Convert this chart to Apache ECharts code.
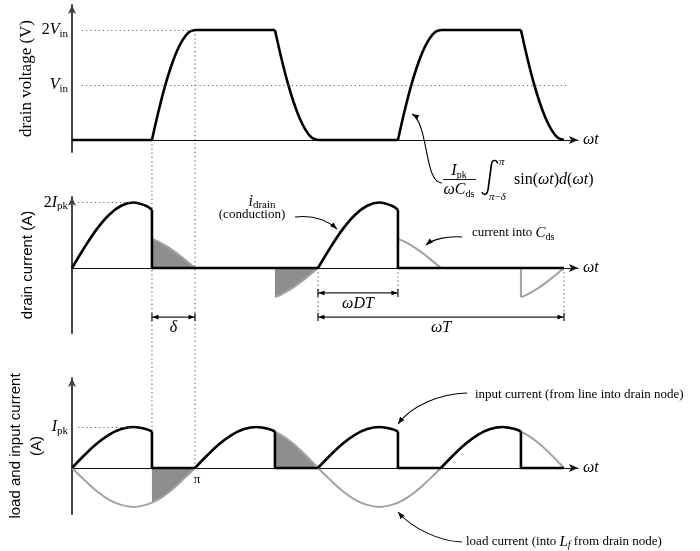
<!DOCTYPE html>
<html>
<head>
<meta charset="utf-8">
<script src="https://cdn.jsdelivr.net/npm/echarts@6/dist/echarts.min.js"></script>
<style>
html, body { margin: 0; padding: 0; background: #fff; }
#main { width: 700px; height: 551px; }
</style>
</head>
<body>
<div id="main"></div>
<script>
// x is wt in units of pi, voltage in Vin, currents in Ipk

// drain voltage
var vRise1 = [[0.65,0],[0.7,0.49],[0.75,0.93],[0.8,1.30],[0.85,1.60],[0.9,1.82],[0.95,1.96],[1,2]];
var vFall1 = [[1.65,2],[1.7,1.51],[1.75,1.07],[1.8,0.70],[1.85,0.40],[1.9,0.18],[1.95,0.04],[2,0]];
var vRise2 = [[2.65,0],[2.7,0.49],[2.75,0.93],[2.8,1.30],[2.85,1.60],[2.9,1.82],[2.95,1.96],[3,2]];
var vFall2 = [[3.65,2],[3.7,1.51],[3.75,1.07],[3.8,0.70],[3.85,0.40],[3.9,0.18],[3.95,0.04],[4,0]];
var vFlats = [[[0,0],[0.65,0]], [[1,2],[1.65,2]], [[2,0],[2.65,0]], [[3,2],[3.65,2]]];

// drain current
var dArc1 = [[0,0],[0.1,0.62],[0.2,1.18],[0.3,1.62],[0.4,1.90],[0.5,2],[0.6,1.90],[0.65,1.78]];
var dArc2 = [[2,0],[2.1,0.62],[2.2,1.18],[2.3,1.62],[2.4,1.90],[2.5,2],[2.6,1.90],[2.65,1.78]];
var dOff1 = [[0.65,1.78],[0.65,0],[2,0]];
var dOff2 = [[2.65,1.78],[2.65,0],[4,0]];
// current into Cds
var cds1 = [[0.65,0.89],[0.7,0.81],[0.8,0.59],[0.9,0.31],[1,0]];
var cds2 = [[1.65,-0.89],[1.7,-0.81],[1.8,-0.59],[1.9,-0.31],[2,0]];
var cds3 = [[2.65,0.89],[2.7,0.81],[2.8,0.59],[2.9,0.31],[3,0]];
var cds4 = [[3.65,-0.89],[3.7,-0.81],[3.8,-0.59],[3.9,-0.31],[4,0]];
var cds4Edge = [[3.65,0],[3.65,-0.89]];

// input current
var inArc1 = [[0,0],[0.1,0.31],[0.2,0.59],[0.3,0.81],[0.4,0.95],[0.5,1],[0.6,0.95],[0.65,0.89]];
var inArc2 = [[1,0],[1.1,0.31],[1.2,0.59],[1.3,0.81],[1.4,0.95],[1.5,1],[1.6,0.95],[1.65,0.89]];
var inArc3 = [[2,0],[2.1,0.31],[2.2,0.59],[2.3,0.81],[2.4,0.95],[2.5,1],[2.6,0.95],[2.65,0.89]];
var inArc4 = [[3,0],[3.1,0.31],[3.2,0.59],[3.3,0.81],[3.4,0.95],[3.5,1],[3.6,0.95],[3.65,0.89]];
var inOff = [[[0.65,0.89],[0.65,0],[1,0]], [[1.65,0.89],[1.65,0],[2,0]],
             [[2.65,0.89],[2.65,0],[3,0]], [[3.65,0.89],[3.65,0],[4,0]]];
// load current
var loadX = [0,0.1,0.2,0.3,0.4,0.5,0.6,0.7,0.8,0.9,1,1.1,1.2,1.3,1.4,1.5,1.6,1.7,1.8,1.9,2,
             2.1,2.2,2.3,2.4,2.5,2.6,2.7,2.8,2.9,3,3.1,3.2,3.3,3.4,3.5,3.6,3.7,3.8,3.9,4];
var loadY = [0,-0.29,-0.56,-0.77,-0.90,-0.95,-0.90,-0.77,-0.56,-0.29,0,
             0.31,0.59,0.81,0.95,1,0.95,0.81,0.59,0.31,0,
             -0.29,-0.56,-0.77,-0.90,-0.95,-0.90,-0.77,-0.56,-0.29,0,
             0.31,0.59,0.81,0.95,1,0.95,0.81,0.59,0.31,0];
var loadShade1 = [[0.65,-0.85],[0.7,-0.77],[0.8,-0.56],[0.9,-0.29],[1,0]];
var loadShade2 = [[1.65,0.89],[1.7,0.81],[1.8,0.59],[1.9,0.31],[2,0]];

var XMAX = 4.114;
var serif = 'Liberation Serif';
var sans = 'Liberation Sans';
var BLACK = '#000';
var GREY = '#a3a3a3';
var SHADE = '#8e8e8e';

var mathRich = {
    i: { fontFamily: serif, fontStyle: 'italic', fontSize: 16, color: '#000' },
    n: { fontFamily: serif, fontSize: 16, color: '#000' },
    s: { fontFamily: serif, fontSize: 11, color: '#000', padding: [8, 0, 0, 0] }
};

var chart = echarts.init(document.getElementById('main'));

function line(g, data, color, width, smooth, area) {
    var s = {
        type: 'line', xAxisIndex: g, yAxisIndex: g, data: data,
        smooth: smooth ? 0.35 : false, symbol: 'none', silent: true, animation: false,
        lineStyle: { color: color, width: width, join: 'round' }
    };
    if (area) {
        s.areaStyle = { color: SHADE, opacity: 1 };
        s.z = 1;
    } else {
        s.z = color == BLACK ? 4 : 3;
    }
    return s;
}

function dotted(g, pairs) {
    return {
        type: 'line', xAxisIndex: g, yAxisIndex: g, data: [], silent: true,
        markLine: {
            silent: true, symbol: 'none', label: { show: false }, animation: false,
            lineStyle: { color: '#666', width: 1.2, type: [1.2, 3] },
            data: pairs.map(function (p) { return [{ coord: p[0] }, { coord: p[1] }]; })
        }
    };
}

function xAxisCfg(g) {
    return {
        type: 'value', gridIndex: g, min: 0, max: XMAX,
        axisLine: { onZero: true, symbol: ['none', 'arrow'], symbolSize: [6, 9],
                    lineStyle: { color: '#111', width: 1 } },
        axisTick: { show: false }, splitLine: { show: false },
        axisLabel: { show: false },
        name: '{i|ωt}', nameLocation: 'end', nameGap: 5,
        nameTextStyle: { rich: mathRich }
    };
}

function yAxisCfg(g, min, max, values, fmt, name, nameFont, nameGap) {
    return {
        type: 'value', gridIndex: g, min: min, max: max,
        axisLine: { symbol: ['none', 'arrow'], symbolSize: [6, 9],
                    lineStyle: { color: '#444', width: 2 } },
        axisTick: { show: false }, splitLine: { show: false },
        axisLabel: { customValues: values, formatter: fmt, rich: mathRich, margin: 4 },
        name: name, nameLocation: 'middle', nameRotate: 90, nameGap: nameGap,
        nameMoveOverlap: false,
        nameTextStyle: nameFont
    };
}

var series = [];
// panel 1
series.push(dotted(0, [[[0.08, 2], [1, 2]], [[0.08, 1], [4.02, 1]]]));
[vRise1, vFall1, vRise2, vFall2].forEach(function (d) { series.push(line(0, d, BLACK, 2.6, true)); });
vFlats.forEach(function (d) { series.push(line(0, d, BLACK, 2.6, false)); });
// panel 2
series.push(dotted(1, [[[0.05, 2], [0.5, 2]]]));
series.push(line(1, cds1, GREY, 2, true, true));
series.push(line(1, cds2, GREY, 2, true, true));
series.push(line(1, cds3, GREY, 2, true));
series.push(line(1, cds4, GREY, 2, true));
series.push(line(1, cds4Edge, GREY, 2, false));
series.push(line(1, dArc1, BLACK, 2.6, true));
series.push(line(1, dArc2, BLACK, 2.6, true));
series.push(line(1, dOff1, BLACK, 2.6, false));
series.push(line(1, dOff2, BLACK, 2.6, false));
// panel 3
series.push(dotted(2, [[[0.05, 1], [0.5, 1]]]));
series.push(line(2, loadShade1, GREY, 0, true, true));
series.push(line(2, loadShade2, GREY, 0, true, true));
series.push(line(2, loadX.map(function (x, i) { return [x, loadY[i]]; }), GREY, 2, true));
[inArc1, inArc2, inArc3, inArc4].forEach(function (d) { series.push(line(2, d, BLACK, 2.6, true)); });
inOff.forEach(function (d) { series.push(line(2, d, BLACK, 2.6, false)); });

chart.setOption({
    animation: false,
    backgroundColor: '#fff',
    grid: [
        { left: 72, top: 5, width: 506, height: 147, outerBoundsMode: 'none', containLabel: false },
        { left: 72, top: 197, width: 506, height: 136, outerBoundsMode: 'none', containLabel: false },
        { left: 72, top: 378, width: 506, height: 136, outerBoundsMode: 'none', containLabel: false }
    ],
    xAxis: [xAxisCfg(0), xAxisCfg(1), xAxisCfg(2)],
    yAxis: [
        yAxisCfg(0, -0.218, 2.455, [1, 2],
            function (v) { return v === 2 ? '{n|2}{i|V}{s|in}' : '{i|V}{s|in}'; },
            'drain voltage (V)', { fontFamily: serif, fontSize: 17, color: '#000' }, 37),
        yAxisCfg(1, -1.985, 2.168, [2],
            function () { return '{n|2}{i|I}{s|pk}'; },
            'drain current (A)', { fontFamily: sans, fontSize: 15, color: '#000' }, 37),
        yAxisCfg(2, -1.122, 2.195, [1],
            function () { return '{i|I}{s|pk}'; },
            'load and input current\n(A)', { fontFamily: sans, fontSize: 15, color: '#000', lineHeight: 21 }, 25)
    ],
    series: series
});

function P(g, x, y) { return chart.convertToPixel({ gridIndex: g }, [x, y]); }

function head(x, y, fx, fy, len, half) {
    var ang = Math.atan2(y - fy, x - fx);
    var bx = x - len * Math.cos(ang), by = y - len * Math.sin(ang);
    var nx = -Math.sin(ang) * half, ny = Math.cos(ang) * half;
    return { type: 'polygon', silent: true, shape: { points: [[x, y], [bx + nx, by + ny], [bx - nx, by - ny]] },
             style: { fill: '#000' } };
}

var els = [];
var dotStyle = { stroke: '#666', lineWidth: 1.2, lineDash: [1.2, 3] };
function vdot(x, y1, y2) {
    els.push({ type: 'line', silent: true, shape: { x1: x, y1: y1, x2: x, y2: y2 }, style: dotStyle });
}
function text(x, y, t, rich, align, size) {
    els.push({ type: 'text', silent: true, x: x, y: y,
               style: { text: t, rich: rich, fill: '#000', align: align || 'left', verticalAlign: 'middle',
                        fontFamily: serif, fontSize: size || 13 } });
}
function bez(p0, c1, c2, p3, w) {
    els.push({ type: 'bezierCurve', silent: true,
               shape: { x1: p0[0], y1: p0[1], cpx1: c1[0], cpy1: c1[1], cpx2: c2[0], cpy2: c2[1], x2: p3[0], y2: p3[1] },
               style: { stroke: '#000', lineWidth: w || 1.1, fill: null } });
}
function curve(p0, c1, c2, p3) {
    bez(p0, c1, c2, p3);
    els.push(head(p3[0], p3[1], c2[0], c2[1], 7, 2.6));
}
function dim(g, x1, x2, y, label, ly) {
    var a = P(g, x1, y), b = P(g, x2, y);
    els.push({ type: 'line', silent: true, shape: { x1: a[0], y1: a[1], x2: b[0], y2: b[1] },
               style: { stroke: '#222', lineWidth: 1.3 } });
    [a, b].forEach(function (p) {
        els.push({ type: 'line', silent: true, shape: { x1: p[0], y1: p[1] - 4, x2: p[0], y2: p[1] + 4 },
                   style: { stroke: '#222', lineWidth: 1.3 } });
    });
    els.push(head(a[0] + 0.5, a[1], a[0] + 10, a[1], 6, 2.3));
    els.push(head(b[0] - 0.5, b[1], b[0] - 10, b[1], 6, 2.3));
    text((a[0] + b[0]) / 2, a[1] + ly, label, mathRich, 'center', 15);
}

// dotted guides through the panels
var t1 = P(0, 0.65, 0), t1b = P(2, 0.65, 0.89);
vdot(t1[0], t1[1], t1b[1]);
var t2 = P(0, 1, 2), t2b = P(2, 1, 0);
vdot(t2[0], t2[1], t2b[1]);
[[2, -1.5], [2.65, -0.76], [4, -1.5]].forEach(function (d) {
    var a = P(1, d[0], 0), b = P(1, d[0], d[1]);
    vdot(a[0], a[1], b[1]);
});

dim(1, 0.65, 1, -1.5, '{i|δ}', 11);
dim(1, 2, 2.65, -0.76, '{i|ωDT}', 11);
dim(1, 2, 4, -1.5, '{i|ωT}', 11);

// pi tick under the load current axis
var piPos = P(2, 1, 0);
text(piPos[0] + 2, piPos[1] + 12, '{i|π}', { i: { fontFamily: serif, fontSize: 13, color: '#000' } }, 'center');

// formula in panel 1
var fr = {
    i: { fontFamily: serif, fontStyle: 'italic', fontSize: 16, color: '#000' },
    n: { fontFamily: serif, fontSize: 16, color: '#000' },
    s: { fontFamily: serif, fontSize: 10, color: '#000', padding: [8, 0, 0, 0] },
    l: { fontFamily: serif, fontStyle: 'italic', fontSize: 11, color: '#000' },
    ln: { fontFamily: serif, fontSize: 11, color: '#000' }
};
text(459, 171, '{i|I}{s|pk}', fr, 'center');
els.push({ type: 'line', silent: true, shape: { x1: 443, y1: 179.5, x2: 476, y2: 179.5 },
           style: { stroke: '#000', lineWidth: 0.9 } });
text(459, 190, '{i|ωC}{s|ds}', fr, 'center');
// integral sign
bez([497.5, 163.5], [497, 159.5], [492.5, 159], [491.5, 164], 1.4);
els.push({ type: 'line', silent: true, shape: { x1: 491.5, y1: 164, x2: 488, y2: 190 },
           style: { stroke: '#000', lineWidth: 1.7 } });
bez([488, 190], [487, 195.5], [483, 195.5], [482, 192], 1.4);
text(499, 162, '{l|π}', fr, 'left');
text(489, 197, '{l|π}{ln|−}{l|δ}', fr, 'left');
text(514, 180, '{n|sin(}{i|ωt}{n|)}{i|d}{n|(}{i|ωt}{n|)}', fr, 'left');
curve([442, 183], [424, 183], [429, 124], [412, 114]);

// panel 2 annotations
text(262, 202, '{i|i}{s|drain}', { i: fr.i, s: { fontFamily: serif, fontSize: 11, color: '#000', padding: [6, 0, 0, 0] } }, 'center');
text(252, 215, '(conduction)', null, 'center');
curve([295, 217], [312, 215], [327, 220], [337, 229]);
text(472, 233, '{n|current into }{i|C}{s|ds}', {
    n: { fontFamily: serif, fontSize: 13, color: '#000' },
    i: { fontFamily: serif, fontStyle: 'italic', fontSize: 15, color: '#000' },
    s: { fontFamily: serif, fontSize: 10, color: '#000', padding: [8, 0, 0, 0] }
}, 'left');
curve([462, 237], [447, 236], [433, 239], [426, 245]);

// panel 3 annotations
text(475, 395, 'input current (from line into drain node)', null, 'left');
curve([467, 393], [440, 394], [412, 405], [398, 424]);
text(466, 542, '{n|load current (into }{i|L}{s|f}{n| from drain node)}', {
    n: { fontFamily: serif, fontSize: 13, color: '#000' },
    i: { fontFamily: serif, fontStyle: 'italic', fontSize: 15, color: '#000' },
    s: { fontFamily: serif, fontStyle: 'italic', fontSize: 10, color: '#000', padding: [7, 0, 0, 0] }
}, 'left');
curve([462, 542], [438, 541], [412, 528], [398, 512]);

chart.setOption({ graphic: els });
</script>
</body>
</html>
